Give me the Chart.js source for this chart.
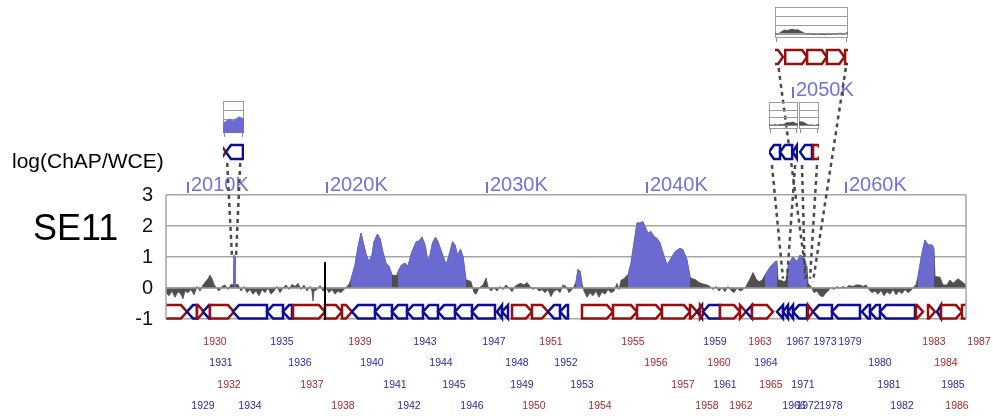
<!DOCTYPE html>
<html><head><meta charset="utf-8">
<script src="https://cdn.jsdelivr.net/npm/chart.js@4.4.1/dist/chart.umd.min.js"></script>
<style>
html,body{margin:0;padding:0;background:#fff;}
#wrap{position:relative;width:993px;height:420px;overflow:hidden;}
#wrap canvas{position:absolute;}
</style></head><body>
<div id="wrap"><canvas id="main" width="993" height="420" style="left:0;top:0"></canvas></div>
<script>
// ---------- DATA (track units along the displayed region: 0..800) ----------
const sigPos = [0,3,6,9,12,15,17,19,22,25,28,31,34,37,40,42,44,46,48,50,53,56,59,62,65,67.5,68,69,69.5,72,75,78,81,84,87,90,93,96,99,102,105,108,111,114,117,120,123,126,129,132,135,138,141,144,146,147,148,151,154,157,160,163,166,169,172,175,178,181,183,185,
189,192,195,197,200,203,206,208,211.5,214,217,220,223,226,229,231,232,235.5,239,242,245.5,250,252,254,256,259,262,264,266.5,269.5,272,275.5,279,281,284,286.5,289,291.5,294.5,297,300,
302,305,308,310,313,317,320,322,325,328,331,334,337,340,343,346,349,352,355,358,361,364,367,370,373,376,379,382,385,388,391,394,397,400,403,406,408,410,412,414,416,418,421,424,427,430,433,436,439,442,445,448,451,453,455,458,460,
462,465,468,471,474,477,480,482,485,488,491,494,497,501,504,509,514,517,521,524,
526,529,532,535,538,541,544,547,550,553,556,559,562,565,568,571,574,577,580,584,587,590,593,596,
599,604,609,611,612,615,618,620,622,626,627,631,634,637,641,
642,645,648,651,654,657,660,662,665,668,671,674,677,680,683,687,690,694,697,700,703,706,709,712,715,718,721,724,727,730,733,736,739,742,745,748,750,
752,756,759,762,766,768,769,774,777,781,784,787,792,796,800];
const sigVal = [-0.15,-0.25,-0.1,-0.3,-0.12,-0.2,-0.35,-0.1,-0.15,-0.05,-0.22,0.05,-0.1,0.1,0.22,0.3,0.42,0.3,0.12,0.02,-0.1,0.05,0.1,-0.05,0.12,0.1,1.05,1.0,0.1,0.12,-0.1,0.05,-0.15,-0.05,-0.2,-0.1,-0.25,-0.05,-0.15,0.0,-0.2,-0.1,0.05,-0.15,0.0,0.1,-0.05,0.12,0.05,0.15,-0.05,0.1,-0.1,0.05,-0.1,-0.42,-0.1,-0.05,0.08,-0.1,0.0,-0.15,-0.05,-0.2,-0.1,-0.15,-0.05,0.05,0.12,0.28,
0.74,1.33,1.77,1.5,1.1,0.85,1.06,1.49,1.74,1.6,1.15,0.8,0.7,0.42,0.4,0.42,0.53,0.74,0.8,0.71,1.13,1.48,1.5,1.55,1.64,1.39,0.85,1.06,1.45,1.64,1.49,1.17,0.85,0.82,1.17,1.49,1.39,1.06,1.25,1.01,0.26,
0.25,0.2,-0.15,-0.2,0.0,0.1,0.32,0.05,-0.1,0.0,-0.1,0.05,-0.05,0.1,0.0,-0.12,0.05,0.12,0.15,0.1,0.18,0.05,-0.05,0.02,-0.1,-0.05,-0.15,-0.05,-0.28,-0.1,-0.05,-0.15,0.1,0.05,-0.15,-0.05,0.05,0.2,0.6,0.55,0.15,-0.1,-0.3,-0.15,-0.25,-0.1,-0.3,-0.12,-0.2,-0.05,-0.15,-0.1,0.15,-0.05,0.25,0.3,0.38,
0.42,0.8,1.45,2.1,2.1,2.14,1.9,1.77,1.82,1.66,1.6,1.45,1.13,0.74,0.9,1.17,1.28,1.23,0.9,0.37,
0.3,0.28,0.2,0.15,0.12,0.1,0.05,-0.05,0.05,-0.1,0.0,-0.12,0.05,-0.08,-0.15,0.0,-0.1,-0.05,0.05,0.3,0.5,0.3,0.2,0.25,
0.42,0.67,0.85,0.87,0.26,0.25,0.2,0.25,0.69,0.96,1.0,0.85,1.06,1.0,0.69,
0.15,0.05,-0.15,-0.1,-0.25,-0.28,-0.15,-0.1,0.02,-0.05,0.05,-0.02,0.05,0.0,0.08,0.05,0.1,0.1,0.05,0.1,-0.05,-0.15,-0.1,-0.2,-0.08,-0.25,-0.12,-0.2,-0.05,-0.22,-0.1,-0.18,-0.05,-0.15,-0.08,0.05,0.1,
0.37,1.13,1.55,1.39,1.39,1.28,0.37,0.35,0.1,0.1,0.26,0.15,0.3,0.2,0.1];
const blueRanges = [[67.5,69.5],[185,226],[232,300],[410,416],[462,524],[599,611],[622,641],[752,768]];

const topTickPos    = [22, 161, 321, 481, 627, 680];
const topTickLabels = ['2010K','2020K','2030K','2040K','2050K','2060K'];
const topTickLevel  = [0, 0, 0, 0, 1, 0];

const geneStart  = [-16,21,31,37,44,67,101,117,127,159,176,186,209,226,241,257,272,289,306,331,336,346,366,382,394,416,447,471,496,524,531,534,537,554,574,580,586,611,617,622,627,642,647,666,696,704,714,750,762,771,775,796];
const geneEnd    = [21,31,38,44,68,101,117,126,159,176,186,209,226,241,257,272,289,306,329,336,342,366,382,394,402,447,471,496,524,531,536,539,554,574,580,586,607,617,622,627,641,647,666,694,704,714,749,757,769,775,796,814];
const geneStrand = ['+','-','+','-','+','-','-','-','+','+','+','-','-','-','-','-','-','-','-','-','-','+','+','-','-','+','+','+','+','+','-','+','-','+','+','-','+','-','-','-','-','+','-','-','-','-','-','+','+','-','+','+'];

const geneLabels      = ['1929','1930','1931','1932','1934','1935','1936','1937','1938','1939','1940','1941','1942','1943','1944','1945','1946','1947','1948','1949','1950','1951','1952','1953','1954','1955','1956','1957','1958','1959','1960','1961','1962','1963','1964','1965','1966','1967','1971','1972','1973','1978','1979','1980','1981','1982','1983','1984','1985','1986','1987'];
const geneLabelPos    = [37,49,55,63,84,116,134,146,177,194,206,229,243,259,275,288,306,328,351,356,368,385,400,416,434,467,490,517,541,549,553,559,575,594,600,605,628,632,637,642,659,665,684,714,723,736,768,780,787,791,813];
const geneLabelRow    = [3,0,1,2,3,0,1,2,3,0,1,2,3,0,1,2,3,0,1,2,3,0,1,2,3,0,1,2,3,0,1,2,3,0,1,2,3,0,2,3,0,3,0,1,2,3,0,1,2,3,0];
const geneLabelStrand = ['-','+','-','+','-','-','-','+','+','+','-','-','-','-','-','-','-','-','-','-','+','+','-','-','+','+','+','+','+','-','+','-','+','+','-','+','-','-','-','-','-','-','-','-','-','-','+','+','-','+','+'];

const markerPos = [159];
const markerTop = [0.84];

// insets (each a zoomed view of a piece of the track)
const insetASignal = [0.55,0.7,0.85,0.95,1.03,0.9,0.85,1.0,1.1,1.28,1.2,1.14,1.0];
const insetBSignal = [0.0,-0.05,0.1,0.3,0.4,0.35,0.45,0.5,0.4,0.45,0.3,0.15,0.0,-0.05,0.02,-0.1,-0.05,0.0,-0.1,-0.05,-0.12,0.0,-0.08,0.02,-0.05,0.0,0.05,-0.05,0.05,0.1];
const insetCSignal = [0.0,0.05,-0.05,0.1,0.0,0.05,0.1,0.05,0.15,0.3,0.35,0.3,0.4,0.35,0.2,0.1];
const insetDSignal = [0.35,0.45,0.4,0.3,0.15,0.05,0.0,0.05,0.0,-0.05,0.05,0.1];
const insetAGenes = [[-0.1,0.14,'+'],[0.14,0.95,'-']];
const insetBGenes = [[-0.2,0.11,'+'],[0.14,0.44,'+'],[0.44,0.71,'+'],[0.71,0.95,'+'],[0.96,1.3,'+']];
const insetCGenes = [[0.0,0.38,'-'],[0.38,0.8,'-'],[0.82,0.97,'-']];
const insetDGenes = [[0.05,0.65,'-'],[0.7,1.2,'+']];
const insetATarget = [66, 70, 1.0];
const insetBTarget = [641, 647, 0.2];
const insetCTarget = [617, 621, 0.3];
const insetDTarget = [639, 644, 0.3];

// ---------- STYLE ----------
const FONT = '"Liberation Sans", Arial, sans-serif';
const RED = '#960f0f', BLUE = '#0d0d92', RED_T = '#a42a2a', BLUE_T = '#2b2b9f';
const SIG_GRAY = '#4f4f4f', SIG_BLUE = '#6a6ad0', TICK_BLUE = '#7272d8', GRID = '#a6a6a6';

function geneShape(ctx, x0, x1, yT, yB, strand, head){
  const h = Math.min(head, Math.max(0, x1 - x0)); const ym = (yT + yB) / 2;
  ctx.beginPath();
  if (strand === '+') { ctx.moveTo(x0,yT); ctx.lineTo(x1-h,yT); ctx.lineTo(x1,ym); ctx.lineTo(x1-h,yB); ctx.lineTo(x0,yB); }
  else { ctx.moveTo(x1,yT); ctx.lineTo(x0+h,yT); ctx.lineTo(x0,ym); ctx.lineTo(x0+h,yB); ctx.lineTo(x1,yB); }
  ctx.closePath();
  ctx.fillStyle = '#fff'; ctx.fill();
  ctx.strokeStyle = strand === '+' ? RED : BLUE; ctx.stroke();
}

// ---------- INSETS ----------
const wrap = document.getElementById('wrap');
function makeInset(left, top, w, boxH, extra, geneOff, values, color, fillMode, genes){
  const c = document.createElement('canvas');
  c.width = w; c.height = boxH + extra; c.style.left = left + 'px'; c.style.top = top + 'px';
  wrap.appendChild(c);
  const n = values.length;
  const chart = new Chart(c, {
    type: 'line',
    data: { datasets: [{ data: values.map((v,i)=>({x:i/(n-1), y:v})), borderColor: color, backgroundColor: color,
      borderWidth: 0.8, pointRadius: 0, fill: fillMode, tension: 0 }] },
    options: {
      responsive: false, animation: false, devicePixelRatio: 1, events: [],
      layout: { padding: { left: 0, right: 0, top: 0, bottom: extra } },
      plugins: { legend: { display: false }, tooltip: { enabled: false } },
      scales: { x: { type: 'linear', min: 0, max: 1, display: false }, y: { min: -0.5, max: 3, display: false } }
    },
    plugins: [{
      id: 'insetFrame',
      beforeDatasetsDraw(ch){
        const {ctx, chartArea: a, scales: {y}} = ch;
        ctx.save(); ctx.strokeStyle = '#9c9c9c'; ctx.lineWidth = 1;
        [2,1,0].forEach(v => { const py = Math.round(y.getPixelForValue(v)) + 0.5;
          ctx.beginPath(); ctx.moveTo(a.left, py); ctx.lineTo(a.right, py); ctx.stroke(); });
        ctx.strokeRect(a.left + 0.5, a.top + 0.5, a.width - 1, a.height - 1);
        ctx.restore();
      },
      afterDraw(ch){
        const {ctx, chartArea: a, scales: {x}} = ch;
        ctx.save();
        ctx.strokeStyle = '#8a8a8a'; ctx.lineWidth = 1;
        [a.left + 1.5, a.right - 1.5].forEach(px => { ctx.beginPath(); ctx.moveTo(px, a.bottom); ctx.lineTo(px, a.bottom + 4); ctx.stroke(); });
        ctx.lineWidth = 2.5; ctx.lineJoin = 'miter';
        genes.forEach(g => geneShape(ctx, x.getPixelForValue(g[0]), x.getPixelForValue(g[1]), geneOff, geneOff + 14, g[2], 5));
        ctx.restore();
      }
    }]
  });
  return { chart, left, top, height: boxH + extra };
}
const insA = makeInset(223, 101, 21, 32, 60 - 32, 44, insetASignal, SIG_BLUE, 'start', insetAGenes);
const insB = makeInset(775, 7, 73, 31, 59 - 31, 43, insetBSignal, SIG_GRAY, 'origin', insetBGenes);
const insC = makeInset(769, 102, 29, 27, 61 - 27, 43, insetCSignal, SIG_GRAY, 'origin', insetCGenes);
const insD = makeInset(799, 102, 20, 27, 61 - 27, 43, insetDSignal, SIG_GRAY, 'origin', insetDGenes);
const connectors = [
  { ins: insA, fx: [0.2, 0.82], t: insetATarget },
  { ins: insB, fx: [0.05, 0.97], t: insetBTarget },
  { ins: insC, fx: [0.1, 0.9], t: insetCTarget },
  { ins: insD, fx: [0.15, 0.9], t: insetDTarget }
];

// ---------- MAIN CHART ----------
const inBlue = x => blueRanges.some(r => x >= r[0] && x <= r[1]);
const grayData = sigPos.map((x,i) => ({x, y: sigVal[i]}));
const blueData = sigPos.map((x,i) => ({x, y: inBlue(x) ? sigVal[i] : null}));

const trackPlugin = {
  id: 'track',
  afterDatasetsDraw(ch){
    const {ctx, chartArea: a, scales: {x, y}} = ch;
    ctx.save();
    // zero line
    const y0 = y.getPixelForValue(0);
    ctx.strokeStyle = '#9a9a9a'; ctx.lineWidth = 1.5;
    ctx.beginPath(); ctx.moveTo(a.left, y0); ctx.lineTo(a.right, y0); ctx.stroke();
    // genes
    ctx.beginPath(); ctx.rect(a.left, a.top, a.width, a.height + 3); ctx.clip();
    ctx.lineWidth = 2.5; ctx.lineJoin = 'miter';
    const gT = y.getPixelForValue(-0.55), gB = y.getPixelForValue(-0.98);
    geneStart.forEach((s,i) => geneShape(ctx, x.getPixelForValue(s), x.getPixelForValue(geneEnd[i]), gT, gB, geneStrand[i], 6));
    ctx.restore();
    ctx.save();
    // marker
    ctx.strokeStyle = '#000'; ctx.lineWidth = 2;
    markerPos.forEach((m,i) => { const px = x.getPixelForValue(m);
      ctx.beginPath(); ctx.moveTo(px, y.getPixelForValue(markerTop[i])); ctx.lineTo(px, y.getPixelForValue(-1) + 1); ctx.stroke(); });
    // frame
    ctx.strokeStyle = GRID; ctx.lineWidth = 1.5;
    ctx.beginPath(); ctx.moveTo(a.left, a.top); ctx.lineTo(a.left, a.bottom); ctx.moveTo(a.right, a.top); ctx.lineTo(a.right, a.bottom); ctx.stroke();
    ctx.restore();
  },
  afterDraw(ch){
    const {ctx, chartArea: a, scales: {x, y}} = ch;
    ctx.save();
    // titles
    ctx.fillStyle = '#000'; ctx.textAlign = 'left'; ctx.textBaseline = 'alphabetic';
    ctx.font = '21px ' + FONT; ctx.fillText('log(ChAP/WCE)', 12, 168);
    ctx.font = '36px ' + FONT; ctx.fillText('SE11', 33, 240);
    // top coordinate ticks
    ctx.font = '20px ' + FONT; ctx.fillStyle = TICK_BLUE; ctx.strokeStyle = TICK_BLUE; ctx.lineWidth = 2;
    topTickPos.forEach((p,i) => {
      const px = x.getPixelForValue(p); const base = a.top - 4 - topTickLevel[i] * 95;
      ctx.beginPath(); ctx.moveTo(px, base - 9); ctx.lineTo(px, base + 2); ctx.stroke();
      ctx.fillText(topTickLabels[i], px + 3, base);
    });
    // gene labels
    ctx.font = '10.5px ' + FONT; ctx.textAlign = 'center'; ctx.textBaseline = 'middle';
    const rowY = [23, 44, 66, 87];
    geneLabels.forEach((t,i) => {
      ctx.fillStyle = geneLabelStrand[i] === '+' ? RED_T : BLUE_T;
      ctx.fillText(t, x.getPixelForValue(geneLabelPos[i]), a.bottom + rowY[geneLabelRow[i]]);
    });
    // dashed connectors to insets
    ctx.strokeStyle = '#4a4a4a'; ctx.lineWidth = 2.5; ctx.setLineDash([4, 4]);
    connectors.forEach(c => {
      const ix = c.ins.chart.scales.x; const topY = c.ins.top + c.ins.height + 2;
      [0, 1].forEach(k => {
        ctx.beginPath();
        ctx.moveTo(c.ins.left + ix.getPixelForValue(c.fx[k]), topY);
        ctx.lineTo(x.getPixelForValue(c.t[k]), y.getPixelForValue(c.t[2]));
        ctx.stroke();
      });
    });
    ctx.restore();
  }
};

new Chart(document.getElementById('main'), {
  type: 'line',
  data: { datasets: [
    { data: blueData, borderColor: SIG_BLUE, backgroundColor: SIG_BLUE, borderWidth: 0.8, pointRadius: 0, fill: 'origin', tension: 0, spanGaps: false },
    { data: grayData, borderColor: SIG_GRAY, backgroundColor: SIG_GRAY, borderWidth: 0.8, pointRadius: 0, fill: 'origin', tension: 0 }
  ]},
  options: {
    responsive: false, animation: false, devicePixelRatio: 1, events: [],
    layout: { padding: { left: 0, top: 195, right: 27, bottom: 101 } },
    plugins: { legend: { display: false }, tooltip: { enabled: false } },
    scales: {
      x: { type: 'linear', min: 0, max: 800, display: false },
      y: { min: -1, max: 3,
        afterFit(s){ s.width = 166; },
        ticks: { stepSize: 1, color: '#111', padding: 13, font: { family: FONT, size: 20 } },
        grid: { color: GRID, lineWidth: 1.5, drawTicks: false },
        border: { display: false } }
    }
  },
  plugins: [trackPlugin]
});
</script>
</body></html>
